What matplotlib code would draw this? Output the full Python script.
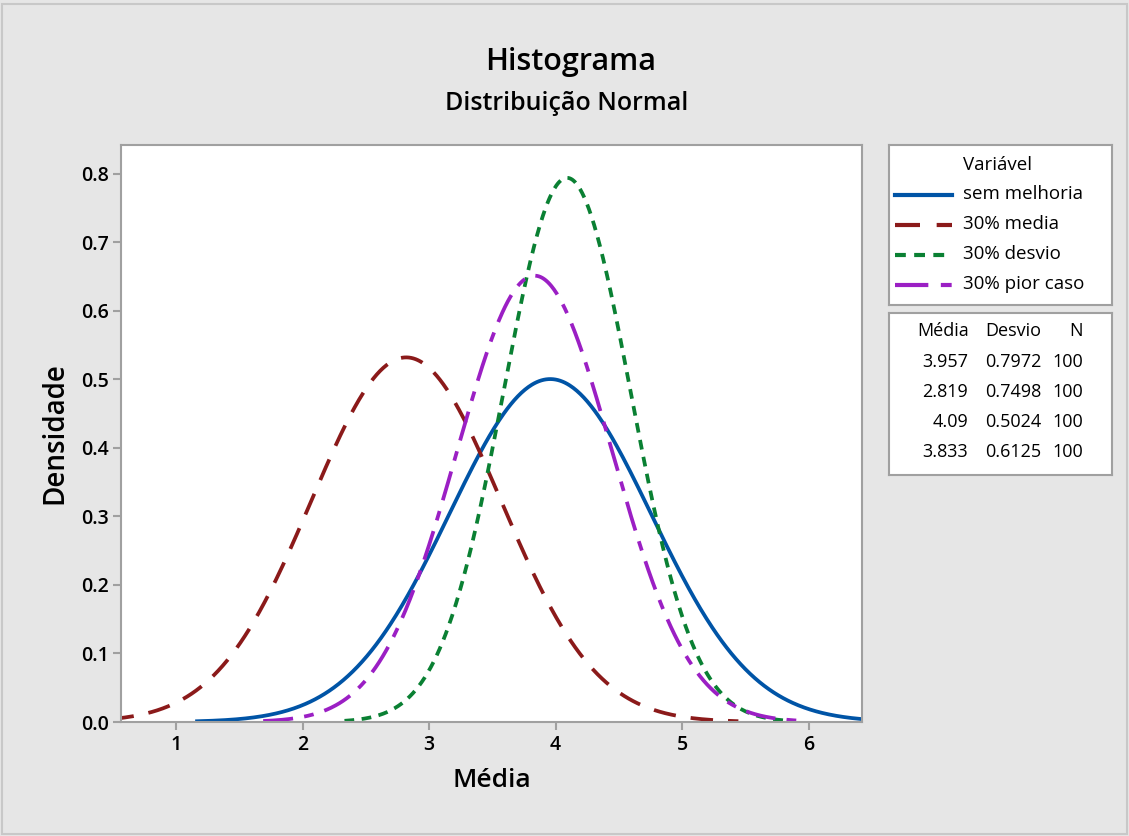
import numpy as np
import matplotlib.pyplot as plt
from matplotlib.patches import Rectangle
from matplotlib.lines import Line2D

plt.rcParams['font.family'] = ['Open Sans', 'DejaVu Sans']

series = ['sem melhoria', '30% media', '30% desvio', '30% pior caso']
medias = [3.957, 2.819, 4.09, 3.833]
desvios = [0.7972, 0.7498, 0.5024, 0.6125]
ns = [100, 100, 100, 100]
media_txt = ['3.957', '2.819', '4.09', '3.833']
desvio_txt = ['0.7972', '0.7498', '0.5024', '0.6125']

colors = ['#0054a6', '#8b1a1a', '#0a8033', '#9b1fc4']
dashes = [None, (6, 4), (2.6, 2), (8, 3, 2.6, 3)]

W, H = 1129, 836
fig = plt.figure(figsize=(W / 100, H / 100), dpi=100)
fig.patch.set_facecolor('#e6e6e6')
fig.add_artist(Rectangle((0.002, 0.002), 0.996, 0.993, transform=fig.transFigure,
                         fill=False, edgecolor='#c8c8c8', lw=1.5))


def px(x0, y0, x1, y1):
    return [x0 / W, 1 - y1 / H, (x1 - x0) / W, (y1 - y0) / H]


ax = fig.add_axes(px(121, 145, 862, 722))
ax.set_facecolor('white')
for s in ax.spines.values():
    s.set_color('#a0a0a0')
    s.set_linewidth(1.5)

for m, sd, c, d in zip(medias, desvios, colors, dashes):
    x = np.linspace(m - 3.5 * sd, m + 3.5 * sd, 600)
    y = np.exp(-0.5 * ((x - m) / sd) ** 2) / (sd * np.sqrt(2 * np.pi))
    ln, = ax.plot(x, y, color=c, lw=2.7, clip_on=True)
    if d is not None:
        ln.set_dashes(d)

ax.set_xlim(0.566, 6.42)
ax.set_ylim(0, 0.842)
ax.set_xticks([1, 2, 3, 4, 5, 6])
ax.set_yticks([0.0, 0.1, 0.2, 0.3, 0.4, 0.5, 0.6, 0.7, 0.8])
ax.set_yticklabels(['0.0', '0.1', '0.2', '0.3', '0.4', '0.5', '0.6', '0.7', '0.8'])
ax.tick_params(direction='out', length=6, width=1.5, color='#a0a0a0',
               labelsize=14, pad=3)
for t in ax.get_xticklabels() + ax.get_yticklabels():
    t.set_fontweight('semibold')
ax.set_xlabel('Média', fontsize=19, fontweight='semibold', labelpad=10)
ax.set_ylabel('Densidade', fontsize=20, fontweight='semibold', labelpad=8)

fig.text(571 / W, 1 - 62 / H, 'Histograma', ha='center', va='center',
         fontsize=22, fontweight='semibold')
fig.text(567 / W, 1 - 104 / H, 'Distribuição Normal', ha='center', va='center',
         fontsize=18, fontweight='semibold')

# legend box
lg = fig.add_axes(px(889, 145, 1112, 305))
lg.set_xlim(889, 1112)
lg.set_ylim(305, 145)
lg.set_xticks([])
lg.set_yticks([])
for s in lg.spines.values():
    s.set_color('#a0a0a0')
    s.set_linewidth(1.5)
lg.text(963, 165, 'Variável', fontsize=13.5, va='center')
for i, (lab, c, d) in enumerate(zip(series, colors, dashes)):
    yy = 195 + i * 30
    ln = Line2D([895, 952], [yy, yy], color=c, lw=3)
    if d is not None:
        ln.set_dashes(d)
    lg.add_line(ln)
    lg.text(963, yy - 1, lab, fontsize=13.5, va='center')

# table box
tb = fig.add_axes(px(889, 313, 1112, 475))
tb.set_xlim(889, 1112)
tb.set_ylim(475, 313)
tb.set_xticks([])
tb.set_yticks([])
for s in tb.spines.values():
    s.set_color('#a0a0a0')
    s.set_linewidth(1.5)
tb.text(969, 331, 'Média', fontsize=13, va='center', ha='right')
tb.text(1041, 331, 'Desvio', fontsize=13, va='center', ha='right')
tb.text(1083, 331, 'N', fontsize=13, va='center', ha='right')
for i in range(4):
    yy = 362 + i * 30
    tb.text(968, yy, media_txt[i], fontsize=13, va='center', ha='right')
    tb.text(1041, yy, desvio_txt[i], fontsize=13, va='center', ha='right')
    tb.text(1083, yy, str(ns[i]), fontsize=13, va='center', ha='right')

fig.savefig('out.png', dpi=100, facecolor=fig.get_facecolor())
